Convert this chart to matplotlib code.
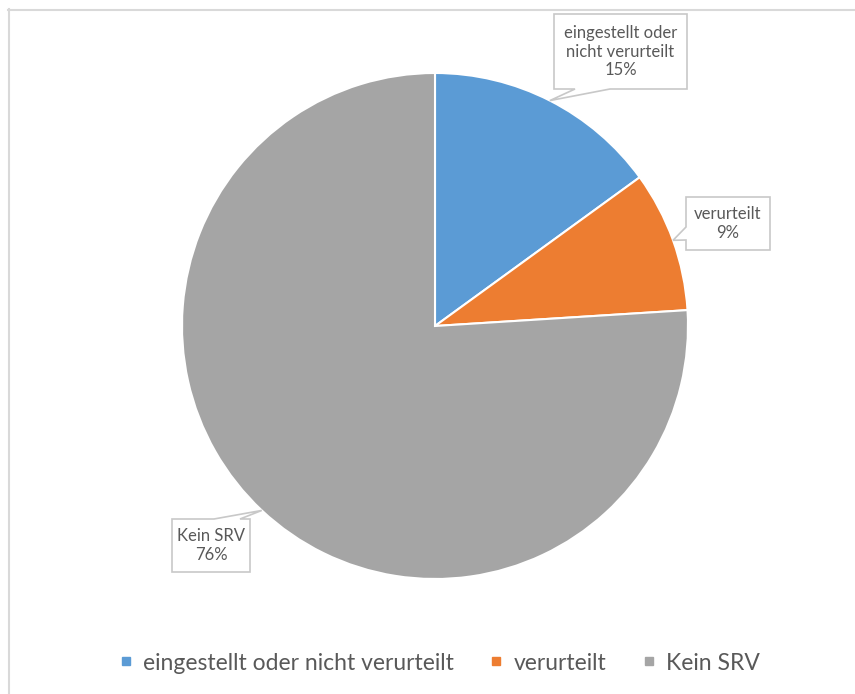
import numpy as np
import matplotlib
matplotlib.use('Agg')
import matplotlib.pyplot as plt
from matplotlib.patches import Polygon
from matplotlib.lines import Line2D

# Anteile der Verfahren
kategorien = ['eingestellt oder nicht verurteilt', 'verurteilt', 'Kein SRV']
label_text = ['eingestellt oder\nnicht verurteilt', 'verurteilt', 'Kein SRV']
anteile = [15, 9, 76]
farben = ['#5B9BD5', '#ED7D31', '#A5A5A5']

plt.rcParams['font.family'] = ['Lato', 'DejaVu Sans']
textfarbe = '#595959'

W, H = 855, 694
fig = plt.figure(figsize=(W / 100, H / 100), dpi=100)
ax = fig.add_axes([0, 0, 1, 1])

cx, cy, r = 435, H - 326, 253
ax.pie(anteile, colors=farben, startangle=90, counterclock=False,
       center=(cx, cy), radius=r,
       wedgeprops=dict(edgecolor='white', linewidth=1.5))
ax.set_xlim(0, W)
ax.set_ylim(0, H)
ax.set_aspect('auto')
ax.axis('off')

# Rahmen oben und links
ax.plot([8, W], [H - 9.5, H - 9.5], color='#D9D9D9', lw=1.5, clip_on=False)
ax.plot([8.5, 8.5], [0, H - 9], color='#D9D9D9', lw=1.5, clip_on=False)

# Beschriftungsboxen: (x0, y0, x1, y1) von oben gemessen, Seite und Fußpunkte der Spitze
boxen = [
    ((554, 14, 687, 89), 'unten', (575, 610)),
    ((686, 197, 770, 250), 'links', (227, 240)),
    ((172, 519, 250, 572), 'oben', (214, 240)),
]

summe = sum(anteile)
start = 90.0
for i, wert in enumerate(anteile):
    winkel = 360.0 * wert / summe
    mitte = np.deg2rad(start - winkel / 2)
    start -= winkel
    tx, ty = cx + r * np.cos(mitte), cy + r * np.sin(mitte)

    (x0, y0, x1, y1), seite, (a, b) = boxen[i]
    y0, y1 = H - y0, H - y1
    if seite == 'unten':
        pts = [(x0, y0), (x1, y0), (x1, y1), (b, y1), (tx, ty), (a, y1), (x0, y1)]
    elif seite == 'links':
        pts = [(x0, y0), (x1, y0), (x1, y1), (x0, y1), (x0, H - b), (tx, ty), (x0, H - a)]
    else:
        pts = [(x0, y0), (a, y0), (tx, ty), (b, y0), (x1, y0), (x1, y1), (x0, y1)]
    ax.add_patch(Polygon(pts, closed=True, facecolor='white',
                         edgecolor='#C8C8C8', lw=1.2, zorder=5))
    ax.text((x0 + x1) / 2, (y0 + y1) / 2, f'{label_text[i]}\n{wert}%',
            ha='center', va='center', fontsize=12, color=textfarbe,
            linespacing=1.2, zorder=6)

# Legende
handles = [Line2D([], [], marker='s', linestyle='none', markersize=6,
                  markerfacecolor=c, markeredgecolor=c) for c in farben]
fig.legend(handles, kategorien, loc='center', bbox_to_anchor=(440 / W, 1 - 663 / H),
           ncol=3, frameon=False, fontsize=16.5, handlelength=0.5,
           handletextpad=0.5, columnspacing=1.6, labelcolor=textfarbe)

fig.savefig('out.png', dpi=100)
